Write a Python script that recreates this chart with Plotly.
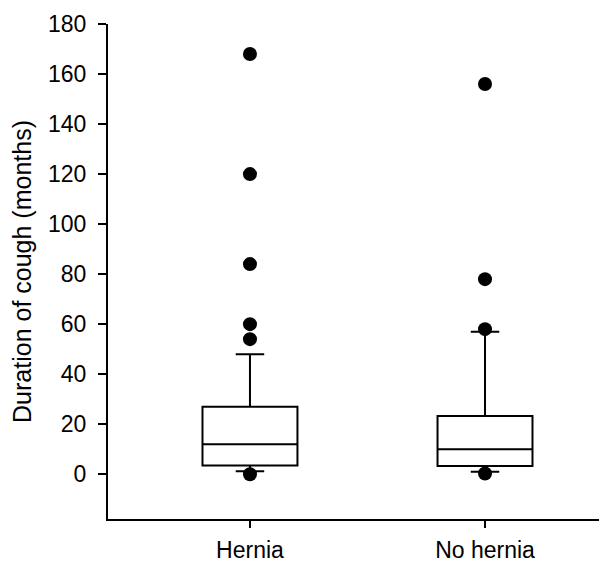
import plotly.graph_objects as go

categories = ["Hernia", "No hernia"]
q1 = [3.5, 3.3]
median = [12, 10]
q3 = [27, 23.3]
lower_whisker = [1.2, 1.0]
upper_whisker = [48, 57]
outliers_hernia = [168, 120, 84, 60, 54, 0]
outliers_no_hernia = [156, 78, 58, 0.3]

y_ticks = [0, 20, 40, 60, 80, 100, 120, 140, 160, 180]

fig = go.Figure()
fig.add_trace(go.Box(
    x=categories,
    q1=q1, median=median, q3=q3,
    lowerfence=lower_whisker, upperfence=upper_whisker,
    width=0.404, whiskerwidth=0.3,
    fillcolor="white",
    line=dict(color="black", width=2),
    boxpoints=False,
    showlegend=False,
    hoverinfo="skip",
))
out_x = [categories[0]] * len(outliers_hernia) + [categories[1]] * len(outliers_no_hernia)
out_y = outliers_hernia + outliers_no_hernia
fig.add_trace(go.Scatter(
    x=out_x, y=out_y, mode="markers",
    marker=dict(color="black", size=14, line=dict(width=0)),
    showlegend=False, cliponaxis=False,
))

font_family = "Liberation Sans, Arial, sans-serif"
fig.update_layout(
    width=599, height=555,
    margin=dict(l=100, r=0, t=16, b=44),
    paper_bgcolor="white", plot_bgcolor="white",
    font=dict(family=font_family, color="black", size=23),
    xaxis=dict(
        type="category",
        range=[-0.604, 1.519],
        automargin=False,
        showline=True, linecolor="black", linewidth=2,
        ticks="outside", ticklen=7, tickwidth=2, tickcolor="black",
        tickfont=dict(size=23),
        ticklabelstandoff=2,
        showgrid=False, zeroline=False,
    ),
    yaxis=dict(
        range=[-17.9, 180],
        automargin=False,
        tickvals=y_ticks,
        ticktext=[str(v) for v in y_ticks],
        showline=True, linecolor="black", linewidth=2,
        ticks="outside", ticklen=8, tickwidth=2, tickcolor="black",
        tickfont=dict(size=23),
        ticklabelstandoff=7,
        showgrid=False, zeroline=False,
        title=dict(text="Duration of cough (months)", font=dict(size=25), standoff=12),
    ),
)

fig.write_html("out.html")
